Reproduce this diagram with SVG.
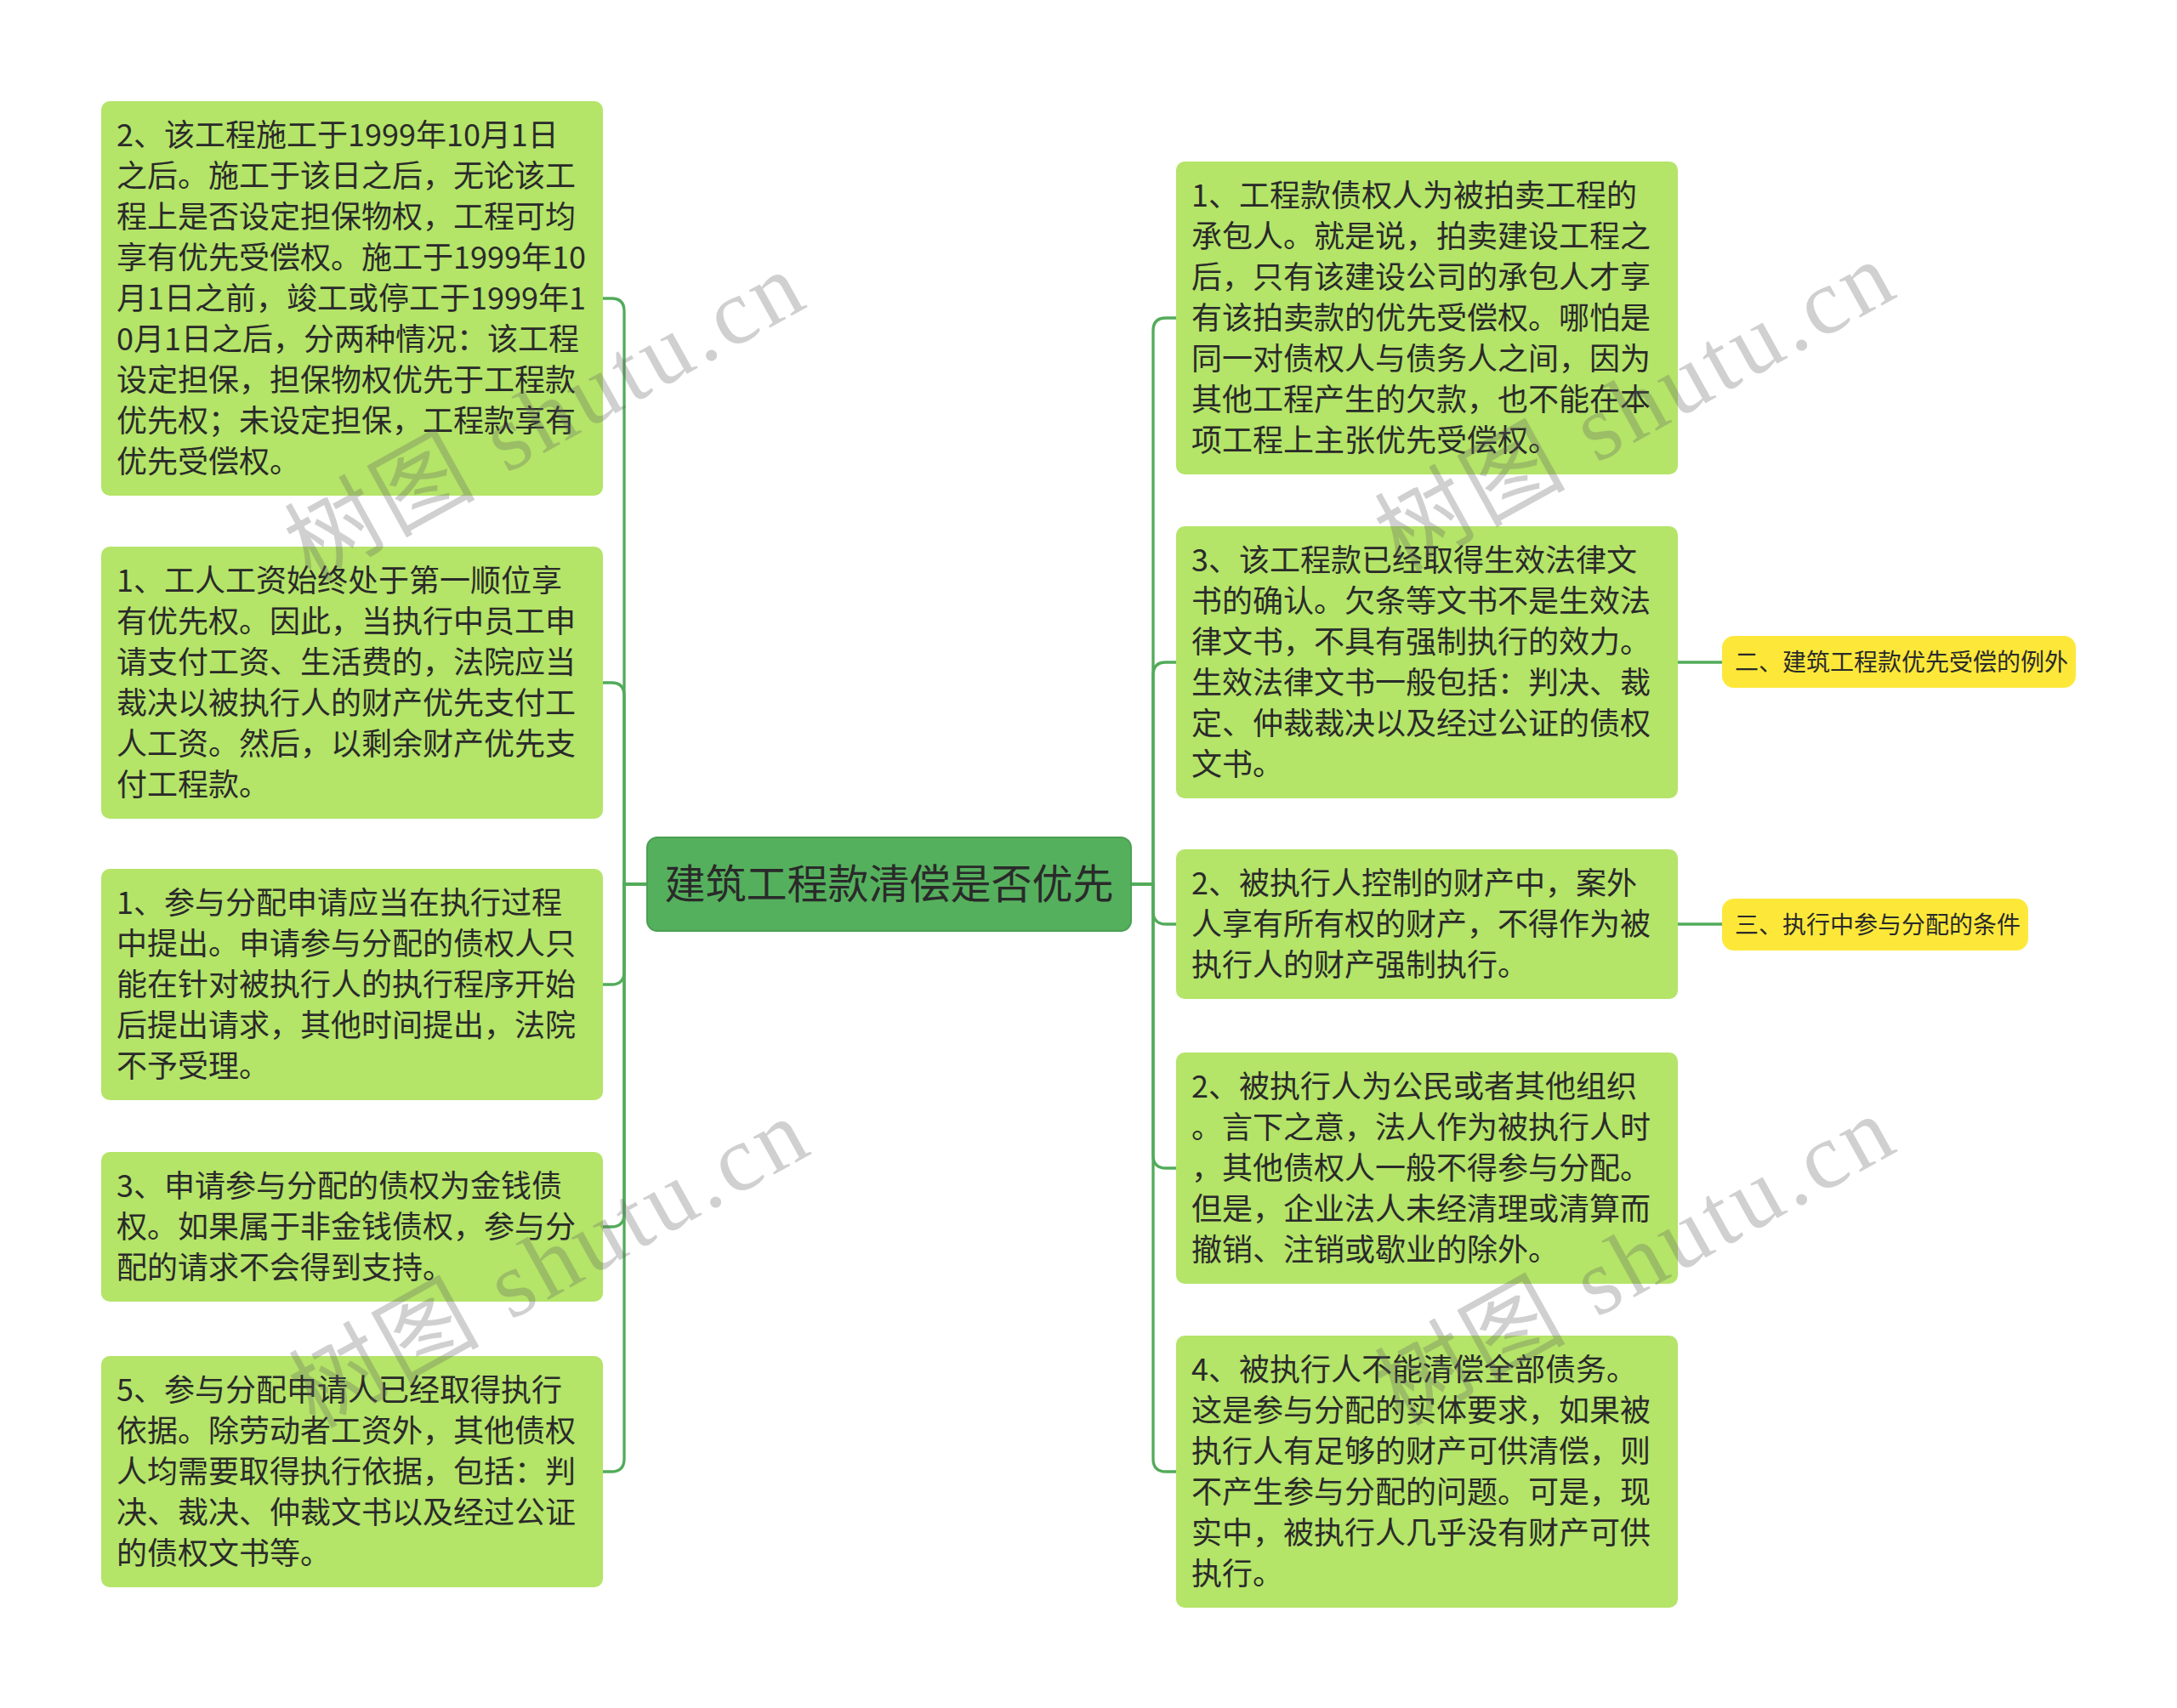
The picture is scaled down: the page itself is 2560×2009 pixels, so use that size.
<svg xmlns="http://www.w3.org/2000/svg" width="2560" height="2009" viewBox="0 0 2560 2009">
<style>
.box{fill:#b4e468;}
.yel{fill:#fde83a;}
.root{fill:#55b05d;stroke:#4aa052;stroke-width:2;}
.t{font-family:"Noto Sans CJK SC","Noto Sans",sans-serif;font-size:36px;fill:#2a2a2a;}
.ty{font-family:"Noto Sans CJK SC","Noto Sans",sans-serif;font-size:28px;fill:#2a2a2a;}
.tr{font-family:"Noto Sans CJK SC","Noto Sans",sans-serif;font-size:48px;fill:#2a2a2a;text-anchor:middle;}
.c{fill:none;stroke:#52ab5a;stroke-width:3.3;}
.wm{font-family:"Liberation Serif","Noto Sans CJK SC",serif;font-size:110px;fill:#646464;fill-opacity:0.3;}
</style>
<rect width="2560" height="2009" fill="#ffffff"/>
<g id="connectors">
<path class="c" d="M761,1040 H734 V366 Q734,351 719,351 H709"/>
<path class="c" d="M761,1040 H734 V818 Q734,803 719,803 H709"/>
<path class="c" d="M761,1040 H734 V1143 Q734,1158 719,1158 H709"/>
<path class="c" d="M761,1040 H734 V1428 Q734,1443 719,1443 H709"/>
<path class="c" d="M761,1040 H734 V1716 Q734,1731 719,1731 H709"/>
<path class="c" d="M1330,1040 H1356 V389 Q1356,374 1371,374 H1383"/>
<path class="c" d="M1330,1040 H1356 V794 Q1356,779 1371,779 H1383"/>
<path class="c" d="M1330,1040 H1356 V1072 Q1356,1087 1371,1087 H1383"/>
<path class="c" d="M1330,1040 H1356 V1359 Q1356,1374 1371,1374 H1383"/>
<path class="c" d="M1330,1040 H1356 V1716 Q1356,1731 1371,1731 H1383"/>
<path class="c" d="M1973,779 H2025"/>
<path class="c" d="M1973,1087 H2025"/>
</g>
<g id="root">
<rect class="root" x="761" y="985" width="569" height="110" rx="12"/>
<text class="tr" x="1045.5" y="1057">建筑工程款清偿是否优先</text>
</g>
<g id="L1">
<rect class="box" x="119" y="119" width="590" height="464" rx="10"/>
<text class="t" x="137" y="172">2、该工程施工于1999年10月1日</text>
<text class="t" x="137" y="220">之后。施工于该日之后，无论该工</text>
<text class="t" x="137" y="268">程上是否设定担保物权，工程可均</text>
<text class="t" x="137" y="316">享有优先受偿权。施工于1999年10</text>
<text class="t" x="137" y="364">月1日之前，竣工或停工于1999年1</text>
<text class="t" x="137" y="412">0月1日之后，分两种情况：该工程</text>
<text class="t" x="137" y="460">设定担保，担保物权优先于工程款</text>
<text class="t" x="137" y="508">优先权；未设定担保，工程款享有</text>
<text class="t" x="137" y="556">优先受偿权。</text>
</g>
<g id="L2">
<rect class="box" x="119" y="643" width="590" height="320" rx="10"/>
<text class="t" x="137" y="696">1、工人工资始终处于第一顺位享</text>
<text class="t" x="137" y="744">有优先权。因此，当执行中员工申</text>
<text class="t" x="137" y="792">请支付工资、生活费的，法院应当</text>
<text class="t" x="137" y="840">裁决以被执行人的财产优先支付工</text>
<text class="t" x="137" y="888">人工资。然后，以剩余财产优先支</text>
<text class="t" x="137" y="936">付工程款。</text>
</g>
<g id="L3">
<rect class="box" x="119" y="1022" width="590" height="272" rx="10"/>
<text class="t" x="137" y="1075">1、参与分配申请应当在执行过程</text>
<text class="t" x="137" y="1123">中提出。申请参与分配的债权人只</text>
<text class="t" x="137" y="1171">能在针对被执行人的执行程序开始</text>
<text class="t" x="137" y="1219">后提出请求，其他时间提出，法院</text>
<text class="t" x="137" y="1267">不予受理。</text>
</g>
<g id="L4">
<rect class="box" x="119" y="1355" width="590" height="176" rx="10"/>
<text class="t" x="137" y="1408">3、申请参与分配的债权为金钱债</text>
<text class="t" x="137" y="1456">权。如果属于非金钱债权，参与分</text>
<text class="t" x="137" y="1504">配的请求不会得到支持。</text>
</g>
<g id="L5">
<rect class="box" x="119" y="1595" width="590" height="272" rx="10"/>
<text class="t" x="137" y="1648">5、参与分配申请人已经取得执行</text>
<text class="t" x="137" y="1696">依据。除劳动者工资外，其他债权</text>
<text class="t" x="137" y="1744">人均需要取得执行依据，包括：判</text>
<text class="t" x="137" y="1792">决、裁决、仲裁文书以及经过公证</text>
<text class="t" x="137" y="1840">的债权文书等。</text>
</g>
<g id="R1">
<rect class="box" x="1383" y="190" width="590" height="368" rx="10"/>
<text class="t" x="1401" y="243">1、工程款债权人为被拍卖工程的</text>
<text class="t" x="1401" y="291">承包人。就是说，拍卖建设工程之</text>
<text class="t" x="1401" y="339">后，只有该建设公司的承包人才享</text>
<text class="t" x="1401" y="387">有该拍卖款的优先受偿权。哪怕是</text>
<text class="t" x="1401" y="435">同一对债权人与债务人之间，因为</text>
<text class="t" x="1401" y="483">其他工程产生的欠款，也不能在本</text>
<text class="t" x="1401" y="531">项工程上主张优先受偿权。</text>
</g>
<g id="R2">
<rect class="box" x="1383" y="619" width="590" height="320" rx="10"/>
<text class="t" x="1401" y="672">3、该工程款已经取得生效法律文</text>
<text class="t" x="1401" y="720">书的确认。欠条等文书不是生效法</text>
<text class="t" x="1401" y="768">律文书，不具有强制执行的效力。</text>
<text class="t" x="1401" y="816">生效法律文书一般包括：判决、裁</text>
<text class="t" x="1401" y="864">定、仲裁裁决以及经过公证的债权</text>
<text class="t" x="1401" y="912">文书。</text>
</g>
<g id="R3">
<rect class="box" x="1383" y="999" width="590" height="176" rx="10"/>
<text class="t" x="1401" y="1052">2、被执行人控制的财产中，案外</text>
<text class="t" x="1401" y="1100">人享有所有权的财产，不得作为被</text>
<text class="t" x="1401" y="1148">执行人的财产强制执行。</text>
</g>
<g id="R4">
<rect class="box" x="1383" y="1238" width="590" height="272" rx="10"/>
<text class="t" x="1401" y="1291">2、被执行人为公民或者其他组织</text>
<text class="t" x="1401" y="1339">。言下之意，法人作为被执行人时</text>
<text class="t" x="1401" y="1387">，其他债权人一般不得参与分配。</text>
<text class="t" x="1401" y="1435">但是，企业法人未经清理或清算而</text>
<text class="t" x="1401" y="1483">撤销、注销或歇业的除外。</text>
</g>
<g id="R5">
<rect class="box" x="1383" y="1571" width="590" height="320" rx="10"/>
<text class="t" x="1401" y="1624">4、被执行人不能清偿全部债务。</text>
<text class="t" x="1401" y="1672">这是参与分配的实体要求，如果被</text>
<text class="t" x="1401" y="1720">执行人有足够的财产可供清偿，则</text>
<text class="t" x="1401" y="1768">不产生参与分配的问题。可是，现</text>
<text class="t" x="1401" y="1816">实中，被执行人几乎没有财产可供</text>
<text class="t" x="1401" y="1864">执行。</text>
</g>
<g id="Y1">
<rect class="yel" x="2025" y="748" width="416" height="61" rx="14"/>
<text class="ty" x="2040" y="789">二、建筑工程款优先受偿的例外</text>
</g>
<g id="Y2">
<rect class="yel" x="2025" y="1057" width="360" height="61" rx="14"/>
<text class="ty" x="2040" y="1098">三、执行中参与分配的条件</text>
</g>
<g id="watermarks">
<text class="wm" transform="translate(365,685) rotate(-29)" textLength="670" lengthAdjust="spacing">树图 shutu.cn</text>
<text class="wm" transform="translate(1647,673) rotate(-29)" textLength="670" lengthAdjust="spacing">树图 shutu.cn</text>
<text class="wm" transform="translate(370,1681) rotate(-29)" textLength="670" lengthAdjust="spacing">树图 shutu.cn</text>
<text class="wm" transform="translate(1647,1678) rotate(-29)" textLength="670" lengthAdjust="spacing">树图 shutu.cn</text>
</g>
</svg>
